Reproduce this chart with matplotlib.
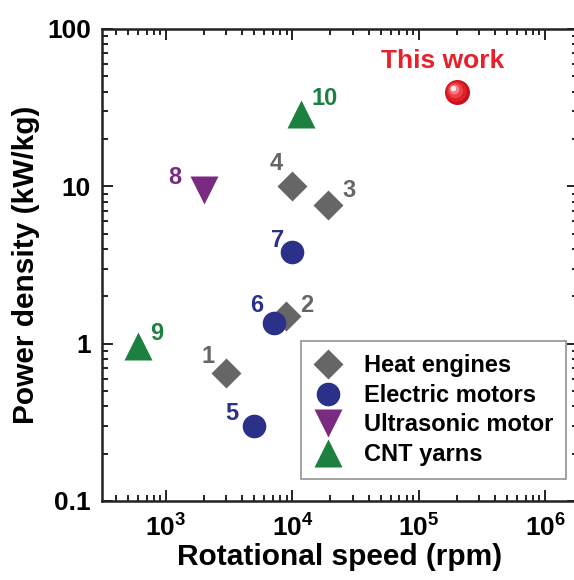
import numpy as np
import matplotlib
matplotlib.use('Agg')
import matplotlib.pyplot as plt
from matplotlib.ticker import FuncFormatter, LogLocator, NullFormatter
import matplotlib.transforms as mtransforms

plt.rcParams['font.family'] = ['Liberation Sans', 'DejaVu Sans']
plt.rcParams['font.weight'] = 'bold'
plt.rcParams['mathtext.default'] = 'regular'

# data
heat_x = [3000, 8900, 19000, 10000]
heat_y = [0.65, 1.5, 7.6, 10]
heat_lab = ['1', '2', '3', '4']
heat_off = [(-18, 17), (21, 10), (21, 15), (-16, 23)]

elec_x = [5000, 7100, 10000]
elec_y = [0.3, 1.36, 3.8]
elec_lab = ['5', '6', '7']
elec_off = [(-23, 12), (-17, 17), (-15, 12)]

ultra_x = [2000]
ultra_y = [9.5]
ultra_lab = ['8']
ultra_off = [(-29, 12)]

cnt_x = [600, 11600]
cnt_y = [0.96, 29]
cnt_lab = ['9', '10']
cnt_off = [(19, 13), (24, 15)]

this_x = [2.0e5]
this_y = [40]

c_gray = '#666666'
c_navy = '#2b3088'
c_purple = '#7a2a80'
c_green = '#1b8040'
c_red = '#e8202a'

fig = plt.figure(figsize=(5.74, 5.80), dpi=100)
ax = fig.add_axes([102/574, 79/580, 476/574, 472/580])

ax.set_xscale('log')
ax.set_yscale('log')
ax.set_xlim(311, 1.82e6)
ax.set_ylim(0.1, 100)

ax.plot(heat_x, heat_y, 'D', color=c_gray, ms=15, mec='none', label='Heat engines')
ax.plot(elec_x, elec_y, 'o', color=c_navy, ms=17, mec='none', label='Electric motors')
ax.plot(ultra_x, ultra_y, 'v', color=c_purple, ms=20, mec='none', label='Ultrasonic motor')
ax.plot(cnt_x, cnt_y, '^', color=c_green, ms=20, mec='none', label='CNT yarns')

# shaded sphere for "This work"
ax.plot(this_x, this_y, 'o', color='#c8101a', ms=18, mec='none', zorder=4)
for s, c, d in zip([15, 11, 7, 4], ['#e02028', '#ee4048', '#f68088', '#ffe8e8'],
                   [0.6, 1.2, 2.0, 2.6]):
    shift = mtransforms.ScaledTranslation(-d/72, d/72, fig.dpi_scale_trans)
    ax.plot(this_x, this_y, 'o', color=c, ms=s, mec='none', zorder=5,
            transform=ax.transData + shift)
ax.annotate('This work', (this_x[0], this_y[0]), xytext=(-14, 31),
            textcoords='offset pixels', color=c_red, fontsize=19,
            ha='center', va='center', fontweight='bold')

for xs, ys, labs, offs, col in [(heat_x, heat_y, heat_lab, heat_off, c_gray),
                                (elec_x, elec_y, elec_lab, elec_off, c_navy),
                                (ultra_x, ultra_y, ultra_lab, ultra_off, c_purple),
                                (cnt_x, cnt_y, cnt_lab, cnt_off, c_green)]:
    for x, y, l, o in zip(xs, ys, labs, offs):
        ax.annotate(l, (x, y), xytext=o, textcoords='offset pixels',
                    color=col, fontsize=17, ha='center', va='center',
                    fontweight='bold')

ax.xaxis.set_major_locator(LogLocator(base=10))
ax.xaxis.set_minor_locator(LogLocator(base=10, subs=np.arange(2, 10)))
ax.xaxis.set_minor_formatter(NullFormatter())
ax.xaxis.set_major_formatter(FuncFormatter(lambda v, p: r'$10^{%d}$' % int(round(np.log10(v)))))
ax.yaxis.set_major_formatter(FuncFormatter(lambda v, p: '%g' % v))
ax.yaxis.set_minor_formatter(NullFormatter())

ax.tick_params(which='both', direction='in', top=True, right=True, width=1.4, color='#222222')
ax.tick_params(which='major', length=8, labelsize=19)
ax.tick_params(axis='x', which='major', pad=10)
ax.tick_params(axis='y', which='major', pad=8)
ax.tick_params(which='minor', length=4.5)
for sp in ax.spines.values():
    sp.set_linewidth(1.8)
    sp.set_color('#222222')

ax.set_xlabel('Rotational speed (rpm)', fontsize=21.5, fontweight='bold', labelpad=1)
ax.set_ylabel('Power density (kW/kg)', fontsize=21.5, fontweight='bold', labelpad=5)

leg = ax.legend(loc='lower left', bbox_to_anchor=(301/574, (580-479)/580),
                bbox_transform=fig.transFigure, frameon=True, fancybox=False,
                edgecolor='#777777', handletextpad=0.9,
                labelspacing=0.28, borderpad=0.55, handlelength=1.2,
                borderaxespad=0, prop={'weight': 'bold', 'size': 17})
leg.get_frame().set_linewidth(1.2)

fig.savefig('out.png', dpi=100)
